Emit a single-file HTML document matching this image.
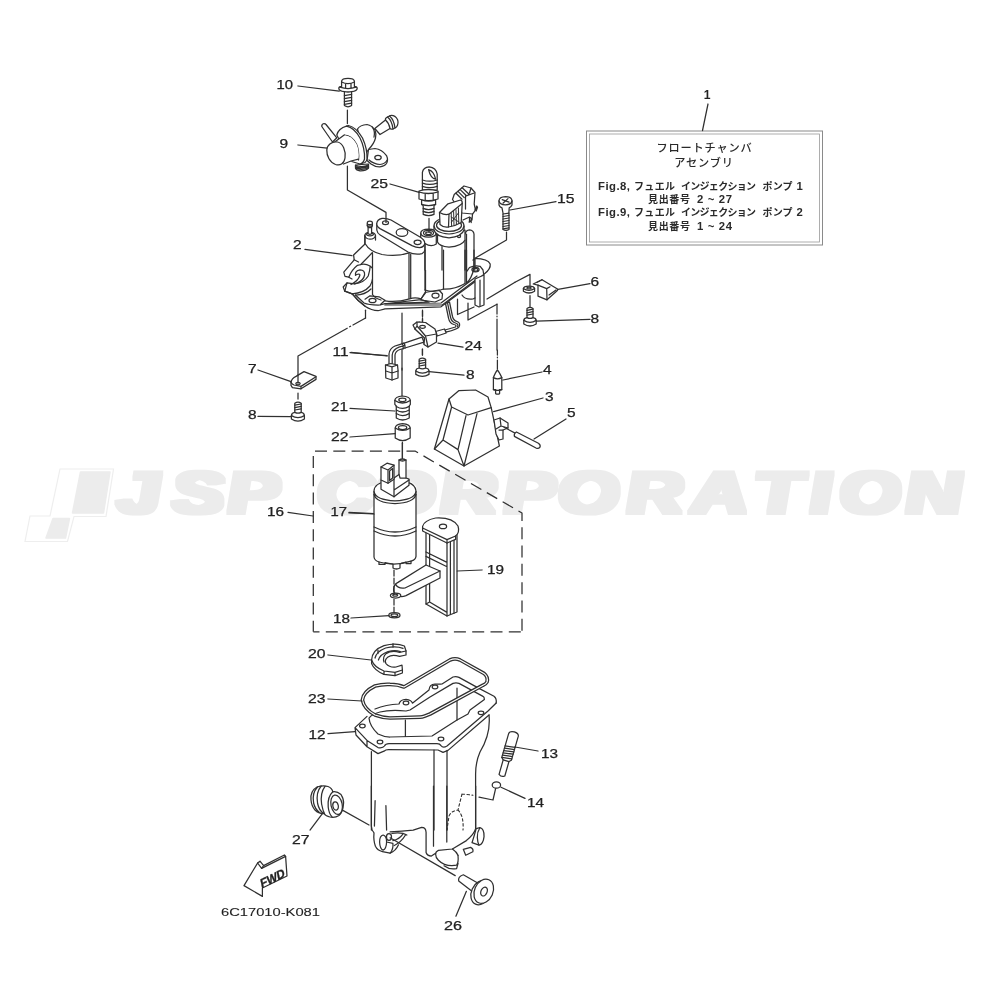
<!DOCTYPE html>
<html lang="ja">
<head>
<meta charset="utf-8">
<title>フロートチャンバ アセンブリ</title>
<style>
html,body{margin:0;padding:0;background:#fff;}
body{width:1000px;height:1000px;overflow:hidden;font-family:"Liberation Sans","Noto Sans CJK JP",sans-serif;}
svg{display:block;position:absolute;left:0;top:0;will-change:transform;transform:translateZ(0);}
.ln{fill:none;stroke:#303030;stroke-width:1.25;stroke-linecap:round;stroke-linejoin:round;}
.ln *{vector-effect:non-scaling-stroke;}
.w{fill:#fff;}
.lb{font-family:"Liberation Sans",sans-serif;font-size:12.2px;fill:#222;}
.lb text{}
.jp{font-family:"Liberation Sans","Noto Sans CJK JP",sans-serif;fill:#2a2a2a;stroke:none;}
.wm{font-family:"Liberation Sans",sans-serif;font-weight:bold;font-style:italic;fill:#ececec;}
</style>
</head>
<body>
<svg width="1000" height="1000" viewBox="0 0 1000 1000">
<rect width="1000" height="1000" fill="#fff"/>

<!-- WATERMARK -->
<g id="watermark">
<defs><filter id="fat" x="-5%" y="-20%" width="110%" height="140%"><feMorphology operator="dilate" radius="4 1.8"/></filter></defs>
<g fill="#ececec" stroke="none">
<path d="M60,469 L113.5,469 L106,516.5 L74,516.5 L67.5,541.5 L25,541.5 L30,516 L50,516 Z" fill="#fff" stroke="#eeeeee" stroke-width="1.2"/>
<path d="M80.5,472 L110,472 L103.5,513 L72.5,513 Z" stroke="#ececec" stroke-width="1.5" stroke-linejoin="round"/>
<path d="M53,518.5 L69.5,518.5 L65.5,538 L46,538 Z" stroke="#ececec" stroke-width="1.5" stroke-linejoin="round"/>
</g>
<g class="wm" fill="#ececec" filter="url(#fat)">
<text transform="translate(0,513.2) skewX(5) scale(1.32,1)" x="89.5 131.6 173.5" y="0" font-size="59">JSP</text>
<text transform="translate(0,513.2) skewX(5) scale(1.32,1)" x="241.2 284.6 334.4 382.6 423.9 475.7 524.7 572.9 614.5 637.2 687.1" y="0" font-size="59">CORPORATION</text>
</g>
</g>

<!-- INFO BOX -->
<g id="infobox">
<rect x="586.5" y="131" width="236" height="114" fill="#fff" stroke="#8a8a8a" stroke-width="1"/>
<rect x="589.5" y="134" width="230" height="108" fill="none" stroke="#9a9a9a" stroke-width="0.8"/>
<text class="jp" x="704.5" y="151.5" font-size="11.2" font-weight="500" text-anchor="middle" letter-spacing="0.8">フロートチャンバ</text>
<text class="jp" x="704" y="167" font-size="11.2" font-weight="500" text-anchor="middle" letter-spacing="0.8">アセンブリ</text>
<text class="jp" y="189.5" font-size="10" font-weight="bold"><tspan x="598" font-size="11.3" textLength="32">Fig.8,</tspan><tspan x="634" textLength="41">フュエル</tspan><tspan x="681" textLength="75">インジェクション</tspan><tspan x="762.5" textLength="30">ポンプ</tspan><tspan x="796.5" font-size="11.3">1</tspan></text>
<text class="jp" y="203" font-size="10" font-weight="bold"><tspan x="648" textLength="42">見出番号</tspan><tspan x="697" font-size="11.3" textLength="35" xml:space="preserve">2 ~ 27</tspan></text>
<text class="jp" y="216" font-size="10" font-weight="bold"><tspan x="598" font-size="11.3" textLength="32">Fig.9,</tspan><tspan x="634" textLength="41">フュエル</tspan><tspan x="681" textLength="75">インジェクション</tspan><tspan x="762.5" textLength="30">ポンプ</tspan><tspan x="796.5" font-size="11.3">2</tspan></text>
<text class="jp" y="229.5" font-size="10" font-weight="bold"><tspan x="648" textLength="42">見出番号</tspan><tspan x="697" font-size="11.3" textLength="35" xml:space="preserve">1 ~ 24</tspan></text>
<path class="ln" d="M708,104 L702.5,130.5"/>
<text class="lb" x="703.8" y="99" font-weight="bold" font-size="12.5">1</text>
</g>

<!-- PARTS -->
<g id="parts" class="ln">
<!--R1-->
<g id="r1" transform="translate(260,60) scale(0.2)">
<!-- bolt 10 -->
<path class="w" d="M408,132 V106 Q410,92 440,92 Q470,92 472,106 V132 Q486,133 486,142 Q486,154 458,158 V228 Q440,240 422,228 V158 Q394,154 394,142 Q394,133 408,132 Z"/>
<path d="M408,110 Q440,126 472,110 M428,119 V136 M455,119 V136 M400,136 Q440,150 480,136 M422,158 Q440,162 458,158"/>
<path d="M422,178 L458,172 M422,193 L458,187 M422,208 L458,202 M422,222 L458,216"/>
<path d="M437,250 V318"/>
<path d="M190,130 L396,156"/>
<path d="M190,425 L336,441"/>
<!-- part 25 -->
<path class="w" d="M812,650 V562 Q816,536 846,534 Q880,538 886,570 V650 Z"/>
<path d="M843,548 Q870,556 878,596 Q852,590 843,548 Z M812,600 Q848,612 886,600 M812,616 Q848,628 886,616 M812,632 Q848,644 886,632"/>
<path class="w" d="M795,655 Q840,640 890,655 V695 Q840,712 795,695 Z"/>
<path d="M795,660 Q840,675 890,660 M826,668 V705 M866,666 V702"/>
<path class="w" d="M808,700 V722 L816,728 V772 Q843,784 870,772 V728 L878,722 V700 Q843,712 808,700"/>
<path d="M808,722 Q843,734 878,722 M816,742 Q843,754 870,742 M816,757 Q843,769 870,757"/>
<path d="M650,620 L796,662"/>
</g>
<g id="z6" transform="translate(310,100) scale(0.1)">
<!-- part 9 regulator -->
<path class="w" d="M118,265 Q115,240 140,235 Q155,235 160,245 L268,378 L225,420 Z"/>
<path class="w" d="M648,285 L755,200 Q750,180 775,170 L805,155 Q850,150 875,195 Q890,235 865,270 L830,290 Q805,295 800,285 L700,345 Z"/>
<path d="M755,200 Q790,230 800,285 M775,170 Q820,205 830,290 M795,160 Q840,195 850,280"/>
<path class="w" d="M585,495 L650,485 Q720,495 765,555 Q785,600 765,635 Q745,665 700,668 Q650,670 610,640 L570,605 Z"/>
<path d="M590,600 Q640,642 700,645 Q750,640 772,600"/>
<ellipse cx="680" cy="575" rx="32" ry="22"/>
<path class="w" d="M455,650 V682 Q462,702 500,708 Q560,710 585,680 V640 Z"/>
<path d="M455,652 Q520,680 585,650 M455,666 Q520,694 585,664 M458,682 Q520,708 585,678"/>
<path class="w" d="M475,290 Q500,250 570,245 Q620,255 650,300 Q665,340 655,380 Q640,440 585,495 L540,560 Z"/>
<path d="M622,268 Q655,315 640,372"/>
<path class="w" d="M365,262 L385,255 Q460,270 525,380 Q575,490 570,590 Q565,615 550,625 L500,640 Z"/>
<path class="w" d="M268,350 Q285,285 365,262 Q440,275 500,380 Q550,480 545,590 Q535,630 500,640 L400,610 Z"/>
<path d="M345,350 Q420,355 465,440 Q495,510 485,600"/>
<path class="w" d="M250,415 L340,352 Q420,355 465,440 Q495,510 485,590 L335,640 Z" stroke="none"/>
<path d="M250,417 L342,351 M335,640 L410,610 L485,592"/>
<path class="w" d="M168,500 C170,450 220,410 275,420 C330,430 360,510 350,580 C340,640 300,660 255,645 C200,625 165,560 168,500 Z"/>
</g>
<!--R2-->
<g id="z1" transform="translate(335,210) scale(0.1)">
<!-- bracket hooks -->
<path class="w" d="M300,340 L186,450 L192,498 L88,622 L100,664 L82,770 L98,812 L172,838 L232,905 L300,960 L480,1000 L900,1000 L905,330 L400,330 Z" stroke="none"/>
<path d="M300,340 L186,450 L192,498 L88,622 L100,664 L138,672 Q165,600 225,553 L262,545 Q305,535 350,560 L378,585"/>
<path d="M372,428 L258,545 M192,498 L235,520 M138,672 L170,690"/>
<path d="M205,652 Q198,606 250,598 Q300,600 296,650 Q285,702 230,726 L195,738 L120,728 L82,770 L98,812 L172,838"/>
<path d="M160,745 Q235,705 248,655 Q250,640 238,640 Q215,645 205,652 M120,728 L98,812"/>
<path d="M195,738 Q290,730 332,660 Q348,610 352,565 M172,838 Q290,830 350,760 Q372,722 375,690"/>
<path d="M172,838 L232,905 L300,960 M205,850 Q300,850 360,790"/>
<!-- stud and boss -->
<path class="w" d="M298,255 Q300,225 350,223 Q402,225 405,255 V340 H298 Z" stroke="none"/>
<path d="M298,335 V255 Q300,225 350,223 Q402,225 405,255 V300"/>
<path d="M298,255 Q305,290 350,292 Q400,290 405,255"/>
<ellipse class="w" cx="350" cy="243" rx="34" ry="15"/>
<path class="w" d="M323,128 Q325,110 348,110 Q372,110 374,128 V158 L366,170 V238 Q348,248 331,238 V170 L323,158 Z"/>
<path d="M323,140 Q348,152 374,140 M323,156 Q348,168 374,156 M331,172 Q348,182 366,172"/>
<!-- big cylinder -->
<path class="w" d="M300,330 Q345,415 470,445 Q620,470 740,428 L905,400 V860 L745,888 Q620,930 490,930 Q400,900 375,850 V425 Z" stroke="none"/>
<path d="M300,260 V335 Q345,415 470,445 Q620,470 740,428"/>
<path d="M375,427 V845 Q400,885 460,900 M500,908 Q620,925 745,888 Q800,870 860,888 L905,828 M740,430 V886 M757,440 V884 M905,330 V826"/>
</g>
<!--R3-->
<g id="z2" transform="translate(415,170) scale(0.1)">
<!-- cylinders C, D, E bodies -->
<path class="w" d="M100,720 H590 V1000 H100 Z" stroke="none"/>
<path class="w" d="M500,640 Q510,600 545,598 Q585,602 590,640 V1000 H500 Z" stroke="none"/>
<path d="M500,640 Q510,600 545,598 Q585,602 590,640 V1000 M515,640 V1000 M500,700 V1000 M270,765 V1000 M100,735 V1000"/>
<!-- seat of 25 -->
<path class="w" d="M57,632 Q60,592 135,592 Q210,594 213,632 V740 Q160,775 100,735 Q60,720 57,690 Z"/>
<path d="M57,632 Q62,670 135,672 Q208,670 213,632"/>
<ellipse cx="135" cy="629" rx="50" ry="25"/>
<ellipse cx="135" cy="632" rx="28" ry="13"/>
<!-- connector lower body -->
<path class="w" d="M225,640 V720 Q240,762 340,772 Q470,762 500,700 V600 Z"/>
<circle cx="440" cy="660" r="16"/>
<!-- collar -->
<path class="w" d="M190,560 Q192,482 340,478 Q488,482 490,560 V600 Q470,665 340,678 Q205,665 190,600 Z"/>
<path d="M190,560 Q200,630 340,640 Q480,630 490,560"/>
<ellipse cx="340" cy="552" rx="125" ry="62"/>
<!-- back block -->
<path class="w" d="M375,295 L392,245 L490,160 L560,180 L600,225 L592,340 L605,400 L575,440 L470,430 Z"/>
<path d="M410,232 L470,292 M430,214 L492,276 M452,196 L515,258 M472,178 L538,240 M505,262 L592,230 M505,262 V390 M560,180 L545,230"/>
<path d="M480,500 L545,470 L562,482 V525 M545,470 V520 M600,400 L618,360 L625,372 L612,410 M575,440 L570,500 L540,520"/>
<!-- plug -->
<path class="w" d="M245,425 L330,338 L455,300 Q475,305 472,335 L462,525 Q400,562 335,570 Q290,580 250,545 Z"/>
<path d="M245,425 Q300,455 340,442 L472,335 M340,442 L335,570"/>
<path d="M362,432 L366,560 M386,415 L390,552 M410,398 L414,545 M434,380 L438,535 M362,470 L438,520 M366,520 L434,430" stroke-width="1"/>
<!-- bolt 15 -->
<path class="w" d="M840,308 Q842,268 905,266 Q968,268 970,308 V350 Q960,372 942,378 L938,440 H940 V595 Q910,612 880,595 V440 H882 L870,378 Q845,370 840,350 Z"/>
<path d="M840,308 Q845,345 905,348 Q965,345 970,308 M872,296 L940,322 M882,330 L930,286"/>
<path d="M880,465 L940,455 M880,490 L940,480 M880,515 L940,505 M880,540 L940,530 M880,565 L940,555 M880,588 L940,578 M880,440 L940,432"/>
</g>
<g id="z1b" transform="translate(335,210) scale(0.1)">
<!-- top plate -->
<path class="w" d="M418,135 V200 Q422,232 452,250 L730,420 Q800,452 870,436 Q896,425 898,400 V335 Z"/>
<path class="w" d="M418,135 Q420,95 470,83 Q520,80 560,100 L850,270 Q900,300 898,335 Q890,372 845,376 Q810,376 770,356 L450,186 Q415,165 418,135 Z"/>
<ellipse cx="505" cy="128" rx="30" ry="19"/>
<ellipse cx="670" cy="225" rx="58" ry="38"/>
<ellipse cx="826" cy="323" rx="35" ry="22"/>
</g>
<!--R4-->
<g id="base" transform="translate(335,270) scale(0.1)">
<!-- base plate of part 2 (Z3 coords; Z4 = Z3-(800,-200)) -->
<path d="M98,212 L172,238 L232,305 L300,362 Q370,408 440,405 L500,388 L1060,368 L1440,88 L1490,42 Q1560,-10 1552,-60 Q1530,-112 1400,-116 L1380,-100"/>
<path d="M205,250 L290,330 Q340,352 450,350 L500,336 L1060,330 L1420,60 M500,350 L1075,348 L1440,75"/>
<path d="M1320,12 L1345,-25 Q1400,-52 1452,-36 L1480,0 L1486,36"/>
<ellipse cx="1405" cy="-4" rx="36" ry="23"/><ellipse cx="1405" cy="-2" rx="24" ry="14"/>
<path d="M300,292 L350,258 L440,268 L500,302 L455,345"/>
<ellipse cx="375" cy="305" rx="35" ry="22"/>
<path d="M860,290 L900,225 L1040,200 L1075,240 L1070,290 L1000,320 L860,300 Z"/>
<ellipse cx="1005" cy="255" rx="35" ry="25"/>
<path d="M520,335 L940,322 L860,296 M520,335 L860,296"/>
<!-- tab going down on right -->
<path class="w" d="M1400,90 V350 L1440,370 L1490,350 V50 Z"/>
<path d="M1450,100 V362"/>
<path d="M1270,250 Q1300,300 1380,290 L1400,280"/>
</g>
<g id="z4" transform="translate(415,250) scale(0.1)">
<!-- cylinder bottoms -->
<path d="M100,0 V400 M285,0 V390 M500,0 V335 M515,0 V330 M590,0 V185"/>
<path d="M100,400 Q190,432 285,390 M285,392 Q400,395 500,335 M515,330 Q560,300 590,185"/>
<!-- pipe -->
<path class="w" d="M305,535 L335,680 Q345,735 390,745 Q420,750 405,770 L300,800 L310,822 Q430,790 440,770 Q460,730 420,715 Q385,705 375,665 L345,520 Z"/>
<path d="M325,528 L355,672 Q365,720 405,730 Q440,742 425,770"/>
<path class="w" d="M205,815 L295,790 L312,830 L222,860 Z"/>
<!-- clamp 24 -->
<path class="w" d="M0,790 L5,750 L40,722 L110,732 L215,832 L212,910 L130,962 L90,940 L95,872 Z"/>
<path d="M5,750 L110,850 L130,962 M110,850 L215,832 M40,722 L40,760"/>
<ellipse cx="75" cy="765" rx="28" ry="15"/>
<path d="M425,492 V645 L590,570 M530,530 V700 L820,542 M720,490 L1000,322"/>
<path d="M820,542 V640 M820,662 V668 M820,690 V1000"/>
<path d="M75,600 V740" stroke-dasharray="6 2"/>
</g>
<g id="z3" transform="translate(335,270) scale(0.1)">
<path d="M305,402 V480"/>
<path d="M670,430 V1000"/>
<path d="M875,410 V560 M875,790 V870" stroke-dasharray="6 2"/>
<!-- tube 11 -->
<path class="w" d="M870,672 L700,728 Q640,745 600,760 Q545,785 540,840 V950 H600 V850 Q605,810 650,795 L700,780 L890,722 Z"/>
<path d="M572,948 V850 Q578,795 640,772 L690,755 M690,728 Q705,750 700,782 M672,735 Q688,760 682,788"/>
<!-- clamp left part -->
<path class="w" d="M780,550 L820,520 L905,525 L1000,590 L1015,640 V720 L930,770 L890,745 L895,680 L800,590 Z"/>
<path d="M800,590 L820,560 L905,660 L930,770 M905,660 L1015,640 M820,520 V560"/>
<ellipse cx="875" cy="568" rx="28" ry="15"/>
<!-- connector of 11 -->
<path class="w" d="M505,950 L560,935 L625,950 L630,1000 L630,1080 L570,1100 L508,1080 Z"/>
<path d="M505,950 L570,968 L625,950 M570,968 V1100 M508,1010 L570,1030 L630,1010"/>
<path d="M150,826 L522,856"/>
</g>
<!--R5-->
<g id="r2b" transform="translate(420,150) scale(0.2)">
<path d="M450,300 L680,258"/>
<!-- washer -->
<path class="w" d="M517,693 Q518,680 545,680 Q572,680 573,693 V706 Q545,724 517,706 Z"/>
<path d="M517,693 Q545,710 573,693"/><ellipse cx="545" cy="690" rx="11" ry="4.5"/>
<path d="M475,661 L550,622 V678 M550,728 V782"/>
<!-- clip 6 -->
<g transform="translate(400,550) scale(0.5)">
<path class="w" d="M332,240 L420,197 L575,290 Q582,300 560,318 L470,398 L380,362 V252 Z"/>
<path d="M380,252 L467,286 L470,398 M467,286 L500,268 M490,350 L560,300 M420,197 L372,222"/>
</g>
<path d="M690,697 L850,668"/>
<!-- screw 8 right -->
<path class="w" d="M535,838 V792 Q550,782 565,792 V838 Q580,840 581,852 V870 Q550,890 519,870 V852 Q520,840 535,838 Z"/>
<path d="M519,852 Q550,872 581,852 M535,802 L565,796 M535,814 L565,808 M535,826 L565,820 M535,838 Q550,846 565,838"/>
<path d="M582,856 L850,847"/>
</g>
<g id="r5" transform="translate(230,330) scale(0.2)">
<path d="M678,-60 L615,-25 M603,-19 L598,-16 M586,-9 L340,130 V262"/>
<!-- part 7 -->
<path class="w" d="M305,262 Q308,242 330,232 L370,208 L430,232 V247 L355,294 L312,288 L305,277 Z"/>
<path d="M305,262 Q310,272 320,275 L355,282 L430,234 M355,282 V294 M340,225 V266"/>
<ellipse cx="340" cy="268" rx="11" ry="6"/>
<path d="M140,200 L305,258"/>
<path d="M340,315 V352" stroke-dasharray="6 2"/>
<!-- screw 8 left -->
<path class="w" d="M324,412 V366 Q340,356 356,366 V412 Q371,414 372,428 V445 Q340,466 307,445 V428 Q308,414 324,412 Z"/>
<path d="M307,428 Q340,448 372,428 M324,376 L356,370 M324,388 L356,382 M324,400 L356,394 M324,412 Q340,420 356,412"/>
<path d="M140,432 L306,433"/>
<path d="M860,190 V340"/>
<path d="M375,-403 L610,-372"/>
<!-- 11 leader -->
<path d="M605,112 L785,130"/>
<!-- part 21 -->
<g transform="translate(862,0) scale(0.9,1) translate(-862,0)">
<path class="w" d="M820,352 Q822,332 862,330 Q904,332 906,352 V372 L900,380 V440 Q862,460 828,440 V380 L820,372 Z"/>
<path d="M820,352 Q862,378 906,352 M828,382 Q862,402 900,382 M828,400 Q862,420 900,400 M828,418 Q862,438 900,418"/>
<ellipse cx="862" cy="349" rx="20" ry="9"/>
</g>
<path d="M600,392 L824,405"/>
<!-- part 22 -->
<g transform="translate(863,0) scale(0.9,1) translate(-863,0)">
<path class="w" d="M822,490 Q824,470 863,468 Q903,470 905,490 V540 Q863,566 822,540 Z"/>
<path d="M822,490 Q863,514 905,490"/>
<ellipse cx="863" cy="488" rx="23" ry="10"/>
</g>
<path d="M600,535 L826,518"/>
<path d="M862,566 V640"/>
<!-- leaders 16 17 -->
<path d="M290,912 L415,930 M595,912 L720,918"/>
</g>
<g id="r6" transform="translate(400,330) scale(0.2)">
<!-- screw 8 center -->
<path d="M112,95 V132" stroke-dasharray="6 2"/>
<path class="w" d="M96,190 V146 Q112,136 128,146 V190 Q144,192 145,205 V222 Q112,242 79,222 V205 Q80,192 96,190 Z"/>
<path d="M79,205 Q112,226 145,205 M96,156 L128,150 M96,168 L128,162 M96,180 L128,174 M96,190 Q112,198 128,190"/>
<path d="M146,208 L320,226"/>
<path d="M190,66 L315,86"/>
<!-- part 4 -->
<path d="M487,100 V125 M487,136 V139 M487,150 V195"/>
<path class="w" d="M487,200 Q478,210 467,238 V298 H478 V318 Q488,324 498,318 V298 H509 V238 Q496,210 487,200 Z"/>
<path d="M467,238 Q488,250 509,238 M467,298 Q488,306 509,298"/>
<path d="M515,250 L710,210"/>
<!-- part 3 float -->
<path class="w" d="M245,345 L295,303 L378,300 L440,335 L456,388 L497,580 L320,680 L172,595 Z"/>
<path d="M245,345 L258,385 L340,425 L456,388 M258,385 L215,550 L290,598 L330,428 M215,550 L172,595 M290,598 L320,680 M385,418 L320,680"/>
<path d="M468,408 L715,340"/>
<!-- clip + pin 5 -->
<path class="w" d="M470,450 L500,440 L540,465 L540,490 L515,500 L515,545 L495,550 L480,520 Z"/>
<path d="M500,440 L505,480 L540,490 M505,480 L480,495 M495,500 L515,500"/>
<path d="M520,486 L580,518"/>
<path class="w" d="M582,510 L692,566 Q704,574 700,586 Q692,596 680,590 L572,532 Q568,518 582,510 Z"/>
<path d="M670,545 L830,445"/>
</g>
<!--R7-->
<g id="dbox" stroke-linecap="butt"><path d="M313,451 H415 L522,513 V631.8" stroke-dasharray="12 6.3" stroke-dashoffset="16.3"/><path d="M313.3,454 V631.8" stroke-dasharray="12 6.3" stroke-dashoffset="16.3"/><path d="M313.3,631.8 H522" stroke-dasharray="12 6.3" stroke-dashoffset="5.8"/></g>
<g id="r7" transform="translate(300,440) scale(0.2)">
<path d="M512,10 V92"/>
<!-- pump 17 -->
<path class="w" d="M370,255 Q372,215 440,205 L540,212 Q578,225 580,255 V582 Q578,600 555,606 V618 H530 V611 Q500,618 500,620 V640 Q482,650 465,640 V620 Q440,618 425,613 V622 H395 V610 Q372,602 370,585 Z"/>
<path d="M370,258 Q378,300 475,304 Q572,300 580,258 M370,272 Q380,314 475,318 Q570,314 580,272 M370,435 Q475,485 580,435 M370,455 Q475,505 580,455 M395,610 Q475,632 555,606"/>
<path class="w" d="M405,200 V246 L470,284 L545,226 V196 L530,190 V100 Q512,90 495,100 V172 L470,190 Z"/>
<path d="M495,100 Q512,110 530,100 M470,190 V284 M495,172 L500,190 L530,190 M470,250 L545,200"/>
<path class="w" d="M405,135 L435,116 L470,126 V196 L440,216 L405,200 Z"/>
<path d="M405,135 L440,150 L470,126 M440,150 V216 M448,155 L463,143 V190 L448,202 Z"/>
<path d="M245,365 L370,370"/>
<!-- filter 19 -->
<path class="w" d="M630,455 V820 L735,880 L785,860 V470 Z"/>
<path d="M648,470 V810 L735,862 M735,515 V880 M752,508 V872 M770,500 V866 M648,810 L630,820 M630,560 L735,612 M630,582 L735,634"/>
<path class="w" d="M613,432 Q620,402 678,390 Q762,385 790,430 Q800,462 778,480 L778,497 L735,515 L613,455 Z"/>
<path d="M613,440 L735,498 L778,480 M735,498 V515"/>
<ellipse cx="715" cy="432" rx="18" ry="11"/>
<path class="w" d="M630,625 L700,655 V690 L530,778 Q500,790 480,772 Q466,762 468,745 Q470,722 490,712 Z"/>
<path d="M478,722 Q490,745 525,740 L700,655"/>
<ellipse class="w" cx="478" cy="778" rx="26" ry="12"/><ellipse cx="476" cy="776" rx="12" ry="5"/>
<path d="M470,650 V760 M470,795 V860" stroke-dasharray="6 2"/>
<ellipse class="w" cx="472" cy="876" rx="28" ry="13"/><ellipse cx="472" cy="876" rx="17" ry="7"/>
<path d="M255,890 L445,878 M786,655 L910,650"/>
</g>
<g id="r8" transform="translate(290,630) scale(0.2)">
<!-- part 20 -->
<path class="w" d="M408,150 Q410,100 470,78 Q530,62 572,80 L580,105 V125 L548,132 Q510,120 490,135 Q470,150 480,168 Q500,190 530,185 L560,176 L562,200 V215 L525,228 L470,222 Q420,200 408,168 Z"/>
<path d="M408,150 Q420,185 470,205 L525,212 L562,200 M580,105 L548,112 Q510,100 480,118 Q462,135 470,160 M470,205 V222 M525,212 V228 M440,100 V118 M515,68 V85"/>
<path d="M425,140 Q432,108 478,90 Q530,78 565,92 M442,150 Q450,122 490,108 Q525,98 552,108"/>
<path d="M190,125 L405,150"/>
<!-- part 12 flange -->
<path class="w" stroke="none" d="M325,488 L365,450 L425,395 L700,300 L815,235 L945,292 L1020,331 L1031,365 L995,425 L790,600 L765,612 L740,600 L480,598 L470,606 L440,618 L385,584 L330,525 Z"/>
<path d="M385,432 L325,488 L330,525 L385,584 L440,618 L470,606 Q478,598 492,598 L740,600 L765,612 L790,602 L995,425 M325,488 L385,552 L440,588 Q465,592 472,580 Q478,568 495,568 L735,568 Q750,568 755,578 Q765,592 785,580 L990,405 L1031,365 M385,552 V584"/>
<path d="M425,395 Q480,372 545,370 Q550,348 580,347 Q608,350 612,366 L695,300 Q697,272 725,270 Q750,272 760,270 L815,235 Q830,230 845,237 L945,292 L1020,331 Q1034,342 1031,365"/>
<path d="M395,440 Q398,480 440,520 Q470,535 500,535 L710,530 L835,450 L890,420 L900,400 L972,347 Q972,335 965,332 L845,267 Q830,262 815,267 L700,335 L600,400 L580,405 Q500,398 450,410 Q410,420 395,440 Z"/>
<path d="M577,450 V532 M835,290 V450"/>
<ellipse cx="362" cy="480" rx="14" ry="9"/><ellipse cx="450" cy="560" rx="14" ry="9"/><ellipse cx="755" cy="545" rx="14" ry="9"/><ellipse cx="955" cy="414" rx="14" ry="9"/><ellipse cx="580" cy="365" rx="14" ry="9"/><ellipse cx="725" cy="285" rx="14" ry="9"/>
<!-- body walls -->
<path d="M407,608 V1000 M720,600 V1000 M785,602 V1000"/>
<path d="M995,425 Q1005,520 950,610 Q928,660 928,720 V1000"/>
<!-- gasket 23 -->
<path d="M362,350 Q365,310 425,280 Q460,270 500,272 Q540,272 570,285 L800,150 Q825,138 850,150 L970,217 Q992,235 985,260 Q980,270 965,276 L700,420 L675,430 Q660,436 650,436 L500,440 Q460,438 425,425 Q370,395 362,350 Z" stroke-width="3.7"/>
<path d="M362,350 Q365,310 425,280 Q460,270 500,272 Q540,272 570,285 L800,150 Q825,138 850,150 L970,217 Q992,235 985,260 Q980,270 965,276 L700,420 L675,430 Q660,436 650,436 L500,440 Q460,438 425,425 Q370,395 362,350 Z" stroke="#fff" stroke-width="1.2"/>
<path d="M190,345 L360,355 M190,518 L325,508"/>
<path d="M160,920 L100,1000"/>
</g>
<g id="z9" transform="translate(290,770) scale(0.1)">
<!-- part 27 -->
<path d="M462,366 L790,550"/>
<path class="w" d="M210,300 Q200,210 270,170 Q330,150 380,165 Q420,180 428,218 Q470,210 510,245 Q540,290 535,340 Q530,420 490,455 Q450,480 400,470 Q360,465 340,435 Q290,440 250,400 Q215,360 210,300 Z"/>
<path d="M275,170 Q218,230 236,330 Q250,390 292,422 M312,160 Q256,225 276,335 Q290,400 332,432 M350,163 Q300,230 316,340 Q328,405 345,436 M428,218 Q372,270 382,370 Q390,440 420,468"/>
<ellipse cx="466" cy="348" rx="56" ry="98" transform="rotate(-12 466 348)"/>
<ellipse class="w" cx="456" cy="360" rx="27" ry="42" transform="rotate(-12 456 360)"/>
</g>
<g id="r9" transform="translate(400,630) scale(0.2)">
<path d="M310,820 L365,826 M310,820 L290,900 Q255,905 245,930 L235,1000 M290,900 Q320,930 315,1000" stroke-dasharray="2.6 2.4" stroke-width="1.1"/>
<!-- part 13 -->
<g transform="rotate(16 540 620)">
<path class="w" d="M515,520 Q517,506 540,505 Q563,506 565,520 V645 L555,655 V730 Q540,742 525,730 V655 L515,645 Z"/>
<path d="M515,585 L565,578 M515,597 L565,590 M515,609 L565,602 M515,621 L565,614 M515,633 L565,626 M515,645 L565,638 M525,655 H555"/>
</g>
<path d="M575,585 L690,605"/>
<ellipse class="w" cx="482" cy="775" rx="21" ry="16"/>
<path d="M478,793 L465,850 L395,836 M505,786 L625,842"/>
</g>
<!--R10-->
<g id="z5" transform="translate(360,800) scale(0.14)">
<!-- part 12 bottom -->
<path d="M81,-100 V185 Q82,215 100,235 Q95,290 110,330 Q125,360 160,368 L215,380 Q255,365 275,320 M108,5 L103,186 M185,40 L190,215"/>
<path d="M215,228 L300,222 L380,215 L440,195 Q470,195 472,230 V375 Q480,400 510,400 L540,380"/>
<path d="M140,300 Q140,255 165,250 Q190,255 190,300 Q188,350 165,358 Q142,350 140,300 Z M190,300 L235,310 Q240,350 215,380"/>
<ellipse cx="207" cy="265" rx="18" ry="24"/>
<path d="M228,238 Q300,228 335,250 M245,325 Q295,300 325,250 M235,290 Q280,280 305,245"/>
<path d="M525,-100 V330 M620,-100 V300"/>
<path d="M826,-100 V205 Q815,245 760,290 L660,350 L560,360 Q540,370 540,385 Q540,410 560,430 Q610,480 690,466 Q705,450 700,395"/>
<path d="M600,470 Q640,500 690,490 L700,455 M660,350 Q690,370 700,395"/>
<path class="w" d="M830,205 L856,198 Q888,205 886,262 Q880,318 850,322 L800,305 Q815,260 830,205 Z"/>
<path d="M856,198 Q836,230 838,268 Q840,305 850,322"/>
<path class="w" d="M738,352 L790,338 Q812,348 806,370 L755,395 Z"/>
<path d="M215,270 L680,540"/>
<!-- part 26 -->
<path class="w" d="M705,578 Q698,548 738,534 L850,598 L800,652 Z"/>
<ellipse class="w" cx="862" cy="662" rx="66" ry="90" transform="rotate(24 862 662)"/>
<ellipse class="w" cx="884" cy="652" rx="66" ry="90" transform="rotate(24 884 652)"/>
<ellipse cx="886" cy="654" rx="22" ry="33" transform="rotate(24 886 654)"/>
<path d="M760,652 L685,830"/>
</g>
<g id="r10" transform="translate(210,770) scale(0.2)">
<!-- FWD arrow -->
<path class="w" d="M170,578 L238,465 L258,492 L378,432 L385,530 L262,590 L262,632 Z"/>
<path d="M238,465 L250,456 L268,478 L372,425 L378,432 M268,478 L258,492"/>
</g>
<text class="lb" transform="translate(261.5,888.3) rotate(-26) skewX(-14)" font-size="13.5" font-weight="bold" stroke="#222" stroke-width="0.35" lengthAdjust="spacingAndGlyphs" textLength="26.5">FWD</text>
<!--R12-->
<!--ASM-->
<g id="asm2" transform="translate(415,170) scale(0.1)"><path d="M915,620 V700 L600,882 V990"/></g>
<g id="asm1" transform="translate(260,60) scale(0.2)"><path d="M437,530 V650 L630,762 V812 M845,792 V862"/></g>
</g>

<!-- LABELS -->
<g id="labels" class="lb" transform="translate(0,-0.6)" stroke="#222" stroke-width="0.25">
<text x="276.5" y="89.5" lengthAdjust="spacingAndGlyphs" textLength="16.5">10</text>
<text x="279.5" y="148.5" lengthAdjust="spacingAndGlyphs" textLength="8.6">9</text>
<text x="370.5" y="188.5" lengthAdjust="spacingAndGlyphs" textLength="17.5">25</text>
<text x="293" y="249.5" lengthAdjust="spacingAndGlyphs" textLength="8.6">2</text>
<text x="557" y="203.5" lengthAdjust="spacingAndGlyphs" textLength="17.5">15</text>
<text x="590.5" y="286.5" lengthAdjust="spacingAndGlyphs" textLength="8.6">6</text>
<text x="590.5" y="323.5" lengthAdjust="spacingAndGlyphs" textLength="8.6">8</text>
<text x="464.5" y="351" lengthAdjust="spacingAndGlyphs" textLength="17.5">24</text>
<text x="332.5" y="356.5" lengthAdjust="spacingAndGlyphs" textLength="16">11</text>
<text x="248" y="373.5" lengthAdjust="spacingAndGlyphs" textLength="8.6">7</text>
<text x="248" y="419.5" lengthAdjust="spacingAndGlyphs" textLength="8.6">8</text>
<text x="331" y="412" lengthAdjust="spacingAndGlyphs" textLength="17">21</text>
<text x="331" y="441.5" lengthAdjust="spacingAndGlyphs" textLength="17.5">22</text>
<text x="267" y="516.5" lengthAdjust="spacingAndGlyphs" textLength="17">16</text>
<text x="330.5" y="516.5" lengthAdjust="spacingAndGlyphs" textLength="16.5">17</text>
<text x="466" y="380" lengthAdjust="spacingAndGlyphs" textLength="8.6">8</text>
<text x="543" y="374.5" lengthAdjust="spacingAndGlyphs" textLength="8.6">4</text>
<text x="545" y="401.5" lengthAdjust="spacingAndGlyphs" textLength="8.6">3</text>
<text x="567" y="417.5" lengthAdjust="spacingAndGlyphs" textLength="8.6">5</text>
<text x="333" y="623.5" lengthAdjust="spacingAndGlyphs" textLength="17">18</text>
<text x="487" y="574.5" lengthAdjust="spacingAndGlyphs" textLength="17">19</text>
<text x="308" y="658.5" lengthAdjust="spacingAndGlyphs" textLength="17.5">20</text>
<text x="308" y="703.5" lengthAdjust="spacingAndGlyphs" textLength="17.5">23</text>
<text x="308.5" y="739.5" lengthAdjust="spacingAndGlyphs" textLength="17">12</text>
<text x="541" y="758.5" lengthAdjust="spacingAndGlyphs" textLength="17">13</text>
<text x="527" y="807.5" lengthAdjust="spacingAndGlyphs" textLength="17">14</text>
<text x="292" y="845" lengthAdjust="spacingAndGlyphs" textLength="17.5">27</text>
<text x="444" y="930.5" lengthAdjust="spacingAndGlyphs" textLength="18">26</text>
<text x="221" y="916.3" font-size="11.8" stroke-width="0.1" lengthAdjust="spacingAndGlyphs" textLength="99">6C17010-K081</text>
<!--LB-->
</g>
</svg>
</body>
</html>
